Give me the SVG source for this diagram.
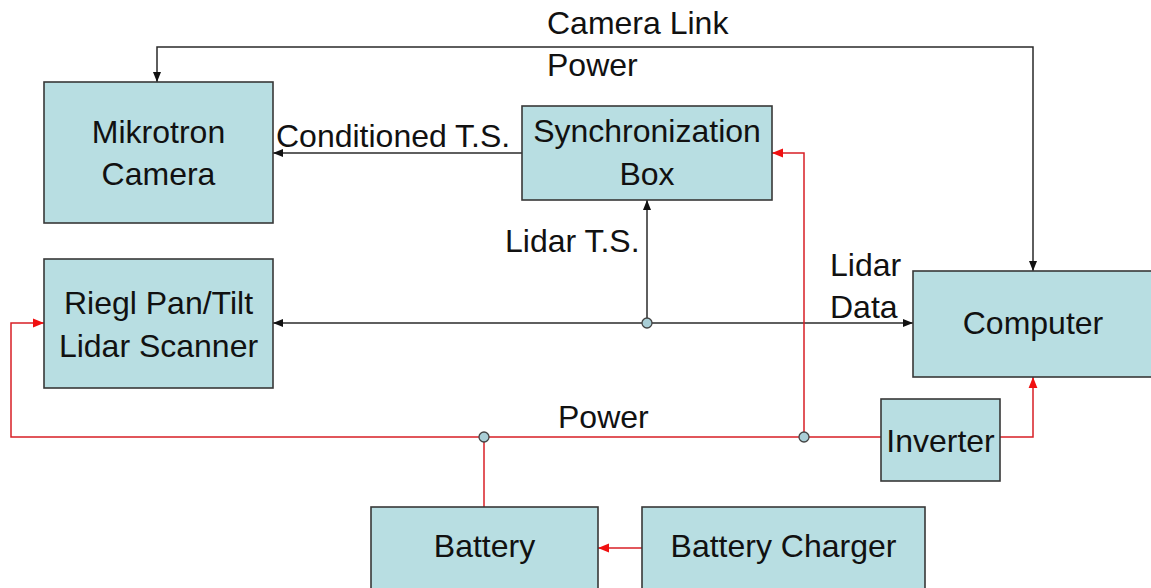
<svg xmlns="http://www.w3.org/2000/svg" width="1151" height="588" viewBox="0 0 1151 588">
<style>
.box{fill:#b8dee2;stroke:#383838;stroke-width:1.6}
.t{font-family:"Liberation Sans",Arial,sans-serif;font-size:32px;fill:#111}
.m{text-anchor:middle}
.blk{fill:none;stroke:#2a2a2a;stroke-width:1.5}
.red{fill:none;stroke:#d81f26;stroke-width:1.5}
.jn{fill:#a9ced6;stroke:#444;stroke-width:1.3}
</style>
<defs>
<marker id="ab" viewBox="0 0 10 10" refX="10" refY="5" markerWidth="10" markerHeight="10" markerUnits="userSpaceOnUse" orient="auto-start-reverse">
<path d="M0,1 L10,5 L0,9 z" fill="#111"/>
</marker>
<marker id="ar" viewBox="0 0 10 10" refX="10" refY="5" markerWidth="11" markerHeight="11" markerUnits="userSpaceOnUse" orient="auto-start-reverse">
<path d="M0,1 L10,5 L0,9 z" fill="#f01010"/>
</marker>
</defs>
<rect width="1151" height="588" fill="#fff"/>
<g id="connectors">
<path class="blk" d="M157,82 V47 H1033 V271" marker-start="url(#ab)" marker-end="url(#ab)"/>
<path class="blk" d="M522,153 H273" marker-end="url(#ab)"/>
<path class="blk" d="M273,323 H913" marker-start="url(#ab)" marker-end="url(#ab)"/>
<path class="blk" d="M647,323 V200" marker-end="url(#ab)"/>
<path class="red" d="M881,437 H11 V323 H44" marker-end="url(#ar)"/>
<path class="red" d="M484,437 V507"/>
<path class="red" d="M804,437 V153 H772" marker-end="url(#ar)"/>
<path class="red" d="M1000,437 H1033 V377" marker-end="url(#ar)"/>
<path class="red" d="M642,548 H598" marker-end="url(#ar)"/>
<circle class="jn" cx="647" cy="323" r="5"/>
<circle class="jn" cx="484" cy="437" r="5"/>
<circle class="jn" cx="804" cy="437" r="5"/>
</g>
<g id="labels">
<text class="t" x="547" y="34">Camera Link</text>
<text class="t" x="547" y="76">Power</text>
<text class="t" x="276" y="147">Conditioned T.S.</text>
<text class="t" x="505" y="252">Lidar T.S.</text>
<text class="t" x="830" y="276">Lidar</text>
<text class="t" x="830" y="318">Data</text>
<text class="t" x="558" y="428">Power</text>
</g>
<g id="camera">
<rect class="box" x="44" y="82" width="229" height="141"/>
<text class="t m" x="158.5" y="143">Mikrotron</text>
<text class="t m" x="158.5" y="185">Camera</text>
</g>
<g id="sync">
<rect class="box" x="522" y="106" width="250" height="94"/>
<text class="t m" x="647" y="142">Synchronization</text>
<text class="t m" x="647" y="185">Box</text>
</g>
<g id="riegl">
<rect class="box" x="44" y="259" width="229" height="129"/>
<text class="t m" x="158.5" y="314">Riegl Pan/Tilt</text>
<text class="t m" x="158.5" y="357">Lidar Scanner</text>
</g>
<g id="computer">
<rect class="box" x="913" y="271" width="250" height="106"/>
<text class="t m" x="1033" y="334">Computer</text>
</g>
<g id="inverter">
<rect class="box" x="881" y="399" width="119" height="82"/>
<text class="t m" x="940.5" y="452">Inverter</text>
</g>
<g id="battery">
<rect class="box" x="371" y="507" width="227" height="95"/>
<text class="t m" x="484.5" y="557">Battery</text>
</g>
<g id="charger">
<rect class="box" x="642" y="507" width="283" height="95"/>
<text class="t m" x="783.5" y="557">Battery Charger</text>
</g>
</svg>
